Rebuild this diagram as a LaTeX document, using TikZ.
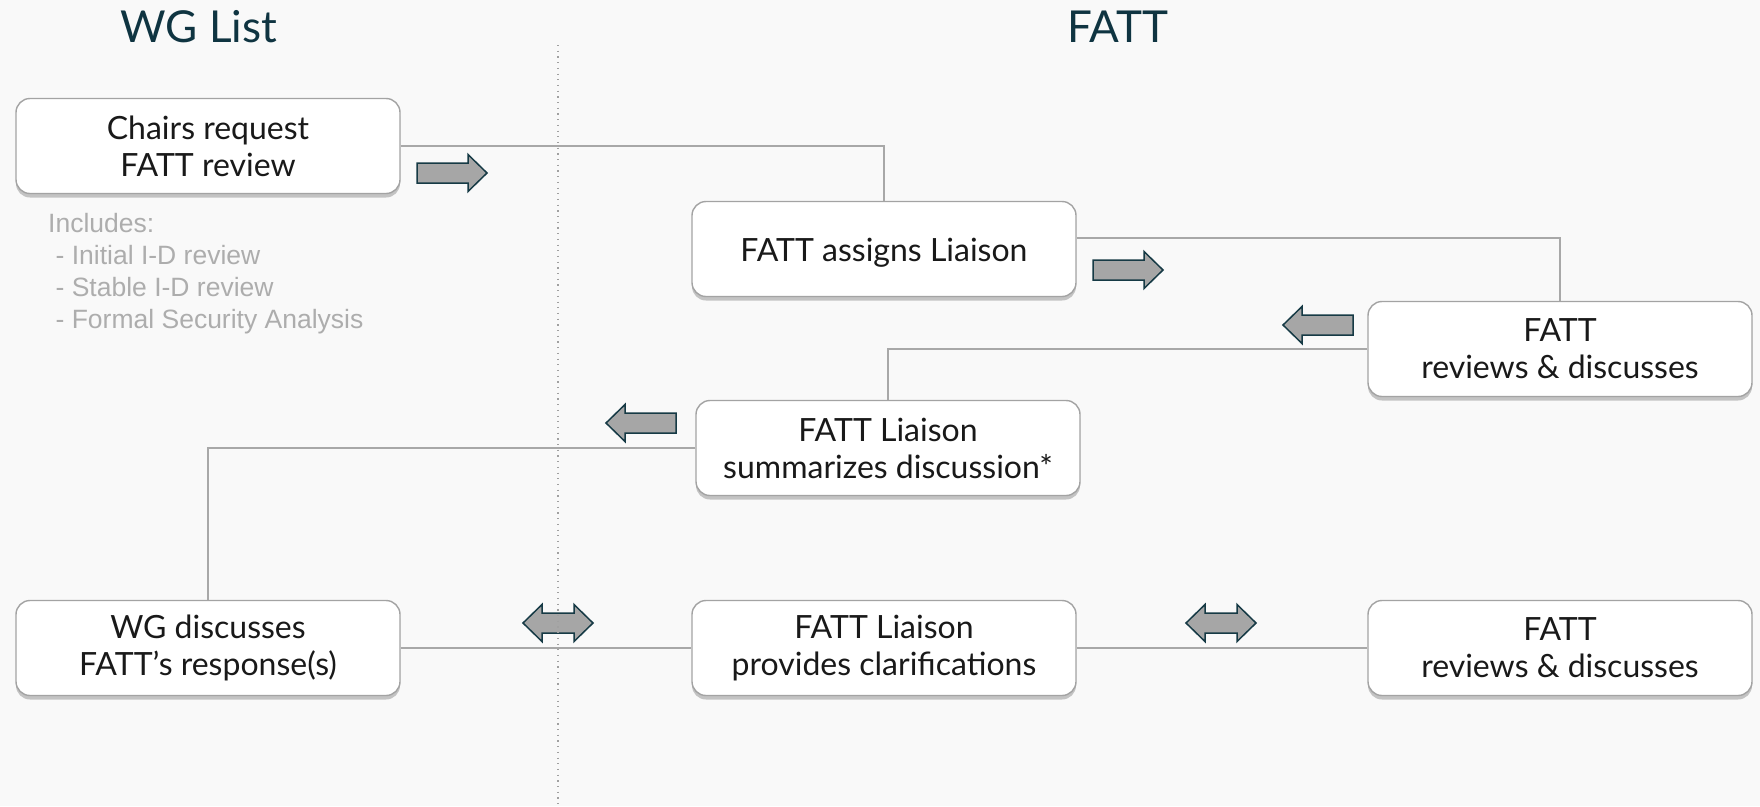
\documentclass[tikz,border=0pt]{standalone}
\usepackage{fontspec}
\setmainfont{Lato}
\newfontfamily\grayfont{Liberation Sans}
\usetikzlibrary{shadows}
\definecolor{bgcol}{HTML}{F9F9F9}
\definecolor{titlecol}{HTML}{0F3441}
\definecolor{boxedge}{HTML}{A3A3A3}
\definecolor{connc}{HTML}{A8A8A8}
\definecolor{arrfill}{HTML}{A6A6A6}
\definecolor{arredge}{HTML}{163A45}
\definecolor{graytext}{HTML}{ADADAD}
\definecolor{dotcol}{HTML}{A0A0A0}
\tikzset{
  flowbox/.style={draw=boxedge, line width=1.4pt, fill=white, rounded corners=14pt,
    minimum width=384pt, minimum height=95pt, align=center, inner sep=0pt,
    font=\fontsize{32}{37}\selectfont, text=black!90,
    drop shadow={shadow xshift=0pt, shadow yshift=-4pt, opacity=0.4, fill=black!55}},
  conn/.style={draw=connc, line width=1.4pt},
  blockarrow/.style={fill=arrfill, draw=arredge, line width=1.5pt, line join=miter},
  titletext/.style={font=\fontsize{44}{52}\selectfont, text=titlecol, anchor=base, inner sep=0pt},
  inctext/.style={font=\grayfont\fontsize{26.5}{32}\selectfont, text=graytext, anchor=base west, inner sep=0pt},
  rarr/.pic={\path[blockarrow] (-35,-10) -- (16,-10) -- (16,-18.5) -- (35,0) -- (16,18.5) -- (16,10) -- (-35,10) -- cycle;},
  larr/.pic={\path[blockarrow] (35,-10) -- (-16,-10) -- (-16,-18.5) -- (-35,0) -- (-16,18.5) -- (-16,10) -- (35,10) -- cycle;},
  darr/.pic={\path[blockarrow] (-35,0) -- (-16,-18.5) -- (-16,-10) -- (16,-10) -- (16,-18.5) -- (35,0) -- (16,18.5) -- (16,10) -- (-16,10) -- (-16,18.5) -- cycle;}
}
\begin{document}
\begin{tikzpicture}[x=1pt,y=-1pt]
\fill[bgcol] (0,0) rectangle (1760,806);
\useasboundingbox (0,0) rectangle (1760,806);

% titles
\node[titletext] (t1) at (199,42) {WG List};
\node[titletext] (t2) at (1118,42) {FATT};

% boxes
\node[flowbox] (b1) at (208,146) {Chairs request\\FATT review};
\node[flowbox] (b2) at (884,249) {\raisebox{-4pt}[\height][\depth]{FATT assigns Liaison}};
\node[flowbox] (b3) at (1560,349) {FATT\\reviews \& discusses};
\node[flowbox] (b4) at (888,448) {FATT Liaison\\summarizes discussion*};
\node[flowbox] (b5) at (208,648) {WG discusses\\FATT’s response(s)};
\node[flowbox] (b6) at (884,648) {FATT Liaison\\provides clarifications};
\node[flowbox] (b7) at (1560,648) {FATT\\reviews \& discusses};

% includes text
\node[inctext] (i1) at (48,232) {Includes:};
\node[inctext] (i2) at (48,264) {\hspace*{0.28em}- Initial I-D review};
\node[inctext] (i3) at (48,296) {\hspace*{0.28em}- Stable I-D review};
\node[inctext] (i4) at (48,328) {\hspace*{0.28em}- Formal Security Analysis};

% connectors
\draw[conn] (b1.east) -| (b2.north);
\draw[conn] ([yshift=11pt]b2.east) -| (b3.north);
\draw[conn] (b3.west) -| (b4.north);
\draw[conn] (b4.west) -| (b5.north);
\draw[conn] (b5.east) -- (b6.west);
\draw[conn] (b6.east) -- (b7.west);

% block arrows
\pic at (452,173) {rarr};
\pic at (1128,270) {rarr};
\pic at (1318,325) {larr};
\pic at (641,423) {larr};
\pic at (558,623) {darr};
\pic at (1221,623) {darr};

% dotted divider
\coordinate (dtop) at (558,45);
\coordinate (dbot) at (558,806);
\draw[dotcol, line width=1.2pt, dash pattern=on 1.2pt off 4.5pt] (dtop) -- (dbot);
\end{tikzpicture}
\end{document}
